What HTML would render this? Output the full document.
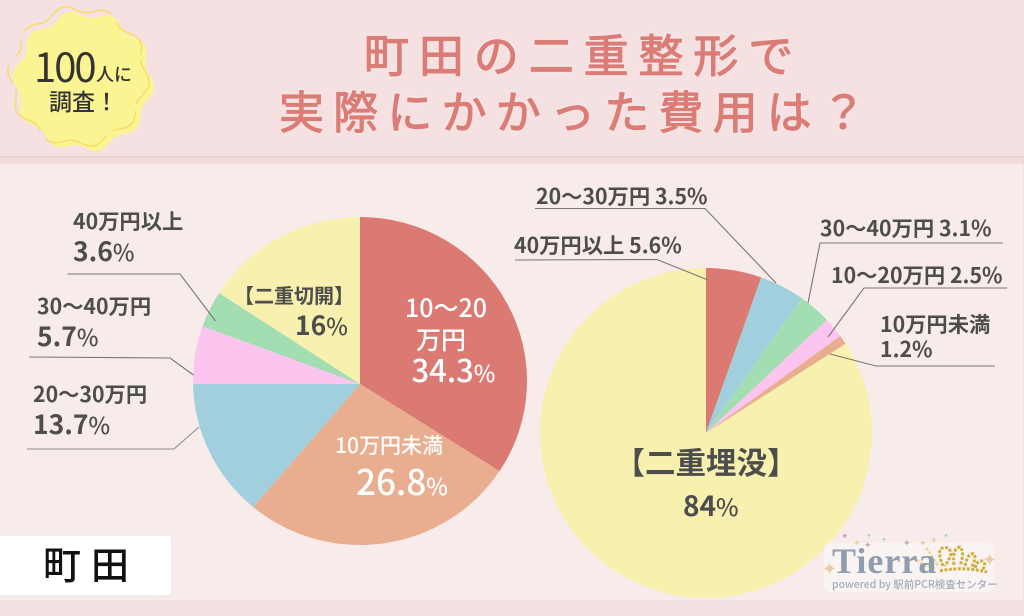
<!DOCTYPE html>
<html lang="ja">
<head>
<meta charset="utf-8">
<title>町田の二重整形で実際にかかった費用は？</title>
<style>
html,body{margin:0;padding:0;background:#f5e1e1;}
body{width:1024px;height:616px;overflow:hidden;position:relative;}
svg{position:absolute;left:0;top:0;display:block;}
text{font-family:"Noto Sans CJK JP","Liberation Sans",sans-serif;}
.lab{fill:#4d4d4d;font-weight:700;font-size:21.3px;}
.big{fill:#4d4d4d;font-weight:700;font-size:26.5px;}
.pct{font-weight:500;font-size:23px;}
.wht{fill:#fff;font-weight:500;}
.lead{fill:none;stroke:#777;stroke-width:1.1;}
.title{fill:#dc7c76;font-size:45px;font-weight:400;stroke:#dc7c76;stroke-width:1.2px;stroke-linejoin:round;filter:drop-shadow(0 0 1px #fff6f4);}
</style>
</head>
<body>
<svg id="chart" width="1024" height="616" viewBox="0 0 1024 616" xmlns="http://www.w3.org/2000/svg">
  <rect x="0" y="0" width="1024" height="156" fill="#f5e1e1"/>
  <rect x="0" y="156" width="1024" height="8" fill="#f1dcdc"/>
  <rect x="0" y="156" width="1024" height="1.500" fill="#e9d1d1"/>
  <rect x="0" y="164" width="1023" height="436" fill="#f8ecea"/>
  <rect x="0" y="600" width="1024" height="16" fill="#f5e1e1"/>

  <g id="badge"></g>
  <text x="34" y="82" font-size="40" font-weight="400" fill="#333" letter-spacing="-2">100</text>
  <text x="96" y="81" font-size="18" font-weight="500" fill="#333">人に</text>
  <text x="49" y="110" font-size="23" font-weight="500" fill="#333">調査！</text>

  <text class="title" x="364" y="72" letter-spacing="9.900">町田の二重整形で</text>
  <text class="title" x="279" y="128.500" letter-spacing="9.200">実際にかかった費用は？</text>

  <g id="pie-left"></g>
  <g id="pie-right"></g>

  <g>
    <polyline class="lead" points="67.500,274 180,274 215.500,321"/>
    <polyline class="lead" points="29,357 170,358 193.500,375"/>
    <polyline class="lead" points="27,449 174,449 199,427" style="stroke:#8d8d8d"/>
  </g>
  <g>
    <polyline class="lead" points="535,208.500 705,208.500 776,283"/>
    <polyline class="lead" points="515,260 657,259.500 708,280"/>
    <polyline class="lead" points="1003,243 820,243 808,303"/>
    <polyline class="lead" points="1007,288 864,288 828,337"/>
    <polyline class="lead" points="995,366 876,366 830,354"/>
  </g>

  <g>
    <text class="lab" x="73" y="229">40万円以上</text>
    <text class="big" x="73" y="261">3.6<tspan class="pct">%</tspan></text>
    <text class="lab" x="37" y="314">30～40万円</text>
    <text class="big" x="37" y="346">5.7<tspan class="pct">%</tspan></text>
    <text class="lab" x="33" y="402">20～30万円</text>
    <text class="big" x="33" y="434">13.7<tspan class="pct">%</tspan></text>
    <text class="lab" x="294" y="303" text-anchor="middle" style="font-size:20px">【二重切開】</text>
    <text class="big" x="295" y="335">16<tspan class="pct">%</tspan></text>
    <text class="wht" x="446" y="317" text-anchor="middle" font-size="25">10～20</text>
    <text class="wht" x="441" y="349" text-anchor="middle" font-size="25">万円</text>
    <text class="wht" x="411.500" y="382" font-size="31">34.3<tspan font-size="23">%</tspan></text>
    <text class="wht" x="335" y="453" font-size="21">10万円未満</text>
    <text class="wht" x="356" y="495" font-size="35">26.8<tspan font-size="23">%</tspan></text>
  </g>

  <g>
    <text class="lab" x="536" y="204">20～30万円 3.5%</text>
    <text class="lab" x="514" y="253">40万円以上 5.6%</text>
    <text class="lab" x="820" y="236">30～40万円 3.1%</text>
    <text class="lab" x="831" y="283">10～20万円 2.5%</text>
    <text class="lab" x="880" y="332">10万円未満</text>
    <text class="lab" x="880" y="357">1.2%</text>
    <text class="lab" x="706" y="474" text-anchor="middle" style="font-size:30.500px">【二重埋没】</text>
    <text class="big" x="683" y="516" style="font-size:28px">84<tspan style="font-weight:500;font-size:24px">%</tspan></text>
  </g>

  <g>
    <rect x="-6" y="535" width="178" height="61" rx="4" fill="#fff" stroke="#e8e2ea" stroke-width="1"/>
    <text x="43" y="579" font-size="38" font-weight="500" fill="#111" letter-spacing="10">町田</text>
  </g>

  <g>
    <rect x="824" y="543" width="170" height="49" rx="6" fill="#f9f3f2"/>
    <g font-size="9">
      <text x="841" y="539" fill="#c9a0bd">✦</text><text x="853" y="546" fill="#e6cfa6">✦</text>
      <text x="866" y="538" fill="#a6d3df" font-size="7">✦</text><text x="864" y="548" fill="#c9a0bd">✦</text>
      <text x="881" y="542" fill="#a6d3df" font-size="7">✦</text><text x="903" y="546" fill="#c9a0bd">✦</text>
      <text x="919" y="546" fill="#e6cfa6">✦</text><text x="930" y="543" fill="#e6cfa6">✦</text>
      <text x="943" y="538" fill="#a6d3df" font-size="7">✦</text>
      <text x="822" y="575" fill="#e6cfa6" font-size="18">✦</text>
      <text x="982" y="566" fill="#e6cfa6" font-size="18">✦</text>
    </g>
    <g fill="none" stroke="#cfae3d" stroke-width="3" stroke-dasharray="3 1.500">
      <path d="M940 571 Q962 566 987 572"/>
      <path d="M914 556 Q920 566 935 568" stroke="#e8d9a8"/>
      <path d="M926 548 Q932 555 938 566" stroke="#e8d9a8"/>
      <path d="M943 566 Q936 548 943 548 Q950 546 951 554 Q949 560 945 566"/>
      <path d="M954 565 Q952 548 960 547 Q965 552 960 566"/>
      <path d="M965 566 Q968 552 974 554 Q977 558 971 568"/>
      <path d="M975 568 Q978 558 984 562 Q986 566 982 570"/>
    </g>
    <text x="832" y="573" font-size="36" font-weight="700" fill="#8f9dae" letter-spacing="1" style="font-family:'Liberation Serif',serif">Tierra</text>
    <text x="832" y="588" font-size="10.500" font-weight="500" fill="#a3adba">powered by 駅前PCR検査センター</text>
  </g>
</svg>

<script>
// Left pie: percentages printed in the reference, clockwise from 12 o'clock.
const incisionCategories = ['10～20万円', '10万円未満', '20～30万円', '30～40万円', '40万円以上', '二重切開'];
const incisionValues = [34.3, 26.8, 13.7, 5.7, 3.6, 16];
const incisionColors = ['#da7a73', '#e8ae8f', '#a2cfde', '#fcc5ef', '#a3deb3', '#f8f0ae'];

// Right pie: slice shares as measured from the drawn wedges; the reference's
// printed labels (5.6, 3.5, 3.1, 2.5, 1.2, 84) differ slightly from its geometry.
const buriedCategories = ['40万円以上', '20～30万円', '30～40万円', '10～20万円', '10万円未満', '二重埋没'];
const buriedValues = [5.4, 4.4, 3.2, 2.0, 0.9, 84.1];
const buriedColors = ['#da7a73', '#a2cfde', '#a3deb3', '#fcc5ef', '#e8ae8f', '#f8f0ae'];

const SVG_NS = 'http://www.w3.org/2000/svg';

function angleScale(values) {
  const total = values.reduce(function (a, b) { return a + b; }, 0);
  return function (v) { return v / total * Math.PI * 2; };
}

// The reference pies are slightly squashed, with a hub a little off the ellipse centre.
function drawPie(groupId, categories, values, colors, geom) {
  const group = document.getElementById(groupId);
  const toAngle = angleScale(values);
  let start = 0;
  values.forEach(function (v, i) {
    const end = start + toAngle(v);
    const x0 = geom.cx + geom.rx * Math.sin(start), y0 = geom.cy - geom.ry * Math.cos(start);
    const x1 = geom.cx + geom.rx * Math.sin(end), y1 = geom.cy - geom.ry * Math.cos(end);
    const large = end - start > Math.PI ? 1 : 0;
    const slice = document.createElementNS(SVG_NS, 'path');
    slice.setAttribute('d', 'M' + geom.hubX + ' ' + geom.hubY + 'L' + x0 + ' ' + y0 + 'A' + geom.rx + ' ' + geom.ry + ' 0 ' + large + ' 1 ' + x1 + ' ' + y1 + 'Z');
    slice.setAttribute('fill', colors[i]);
    
    
    group.appendChild(slice);
    start = end;
  });
}

function wavyPath(cx, cy, r, amp, lobes, phase, from, to) {
  let d = '';
  for (let a = from; a <= to + 0.001; a += 0.03) {
    const rad = r + amp * Math.sin(lobes * a + phase);
    d += (d ? 'L' : 'M') + (cx + rad * Math.cos(a)).toFixed(1) + ' ' + (cy + rad * Math.sin(a)).toFixed(1);
  }
  return d;
}

function drawBadge() {
  const g = document.getElementById('badge');
  const fill = document.createElementNS(SVG_NS, 'path');
  fill.setAttribute('d', wavyPath(83.5, 81.5, 67.5, 3.5, 10, 0.6, 0, Math.PI * 2) + 'Z');
  fill.setAttribute('fill', '#faf592');
  
  
  g.appendChild(fill);
  const arcs = [[-2.45, -1.1], [-0.95, -0.35], [-0.25, 0.45], [0.55, 1.0], [1.15, 2.05], [2.2, 2.95], [3.05, 3.3], [3.45, 3.7]];
  arcs.forEach(function (arc) {
    const line = document.createElementNS(SVG_NS, 'path');
    line.setAttribute('d', wavyPath(78.5, 76.5, 67.5, 3.5, 10, 0.6, arc[0], arc[1]));
    line.setAttribute('fill', 'none');
    line.setAttribute('stroke', '#f9dc6b');
    line.setAttribute('stroke-width', '1.6');
    line.setAttribute('stroke-linecap', 'round');
    
    
    g.appendChild(line);
  });
}

drawBadge();
drawPie('pie-left', incisionCategories, incisionValues, incisionColors, { cx: 360, cy: 381, rx: 167, ry: 164, hubX: 360, hubY: 384 });
drawPie('pie-right', buriedCategories, buriedValues, buriedColors, { cx: 706, cy: 433, rx: 166, ry: 165, hubX: 706, hubY: 433 });
</script>
</body>
</html>
